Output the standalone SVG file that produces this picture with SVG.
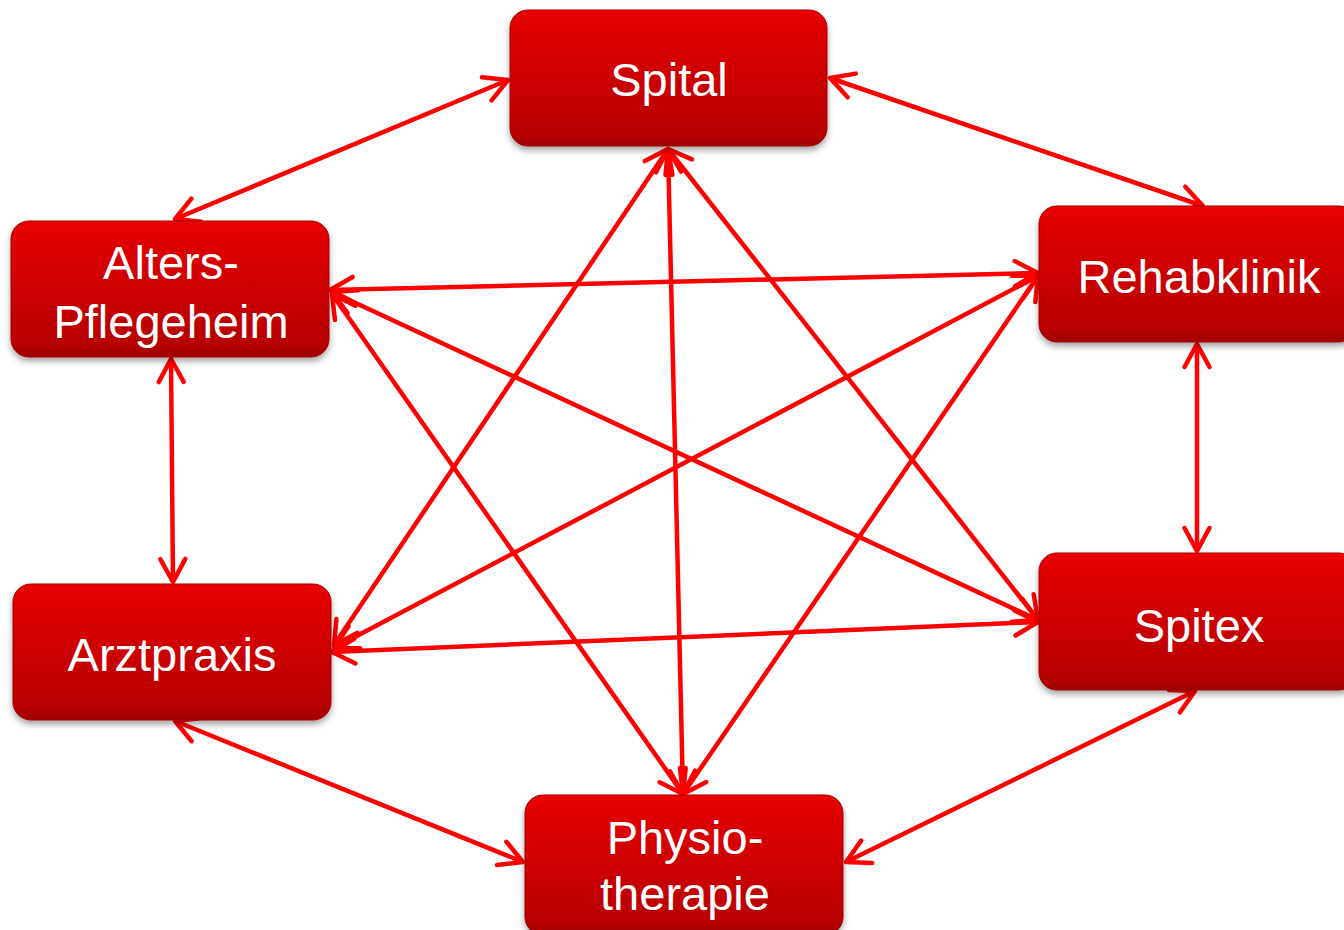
<svg xmlns="http://www.w3.org/2000/svg" width="1344" height="930" viewBox="0 0 1344 930">
<style>
.box{fill:url(#g);stroke:#a00000;stroke-width:1}
.lbl{font-family:"Liberation Sans",Arial,sans-serif;font-size:47px;fill:#fff;text-anchor:middle}
.c{stroke:#ff0000;stroke-width:4.5;fill:none;marker-start:url(#ah);marker-end:url(#ah)}
</style>
<defs>
<linearGradient id="g" x1="0" y1="0" x2="0" y2="1">
<stop offset="0" stop-color="#ee0606"/>
<stop offset="0.08" stop-color="#e20404"/>
<stop offset="0.9" stop-color="#b80000"/>
<stop offset="1" stop-color="#a00000"/>
</linearGradient>
<filter id="sh" x="-10%" y="-10%" width="120%" height="130%">
<feDropShadow dx="0" dy="4" stdDeviation="3" flood-color="#000" flood-opacity="0.35"/>
</filter>
<marker id="ah" markerUnits="userSpaceOnUse" markerWidth="40" markerHeight="40" viewBox="-30 -20 40 40" refX="0" refY="0" orient="auto-start-reverse">
<path d="M-23,-12.5 L0,0 L-23,12.5" fill="none" stroke="#ff0000" stroke-width="4.5" stroke-linecap="round" stroke-linejoin="round"/>
</marker>
</defs>
<rect width="1344" height="930" fill="#fff"/>
<g id="connectors">
<line class="c" x1="508" y1="80" x2="175" y2="219"/>
<line class="c" x1="830" y1="78" x2="1203" y2="206"/>
<line class="c" x1="330" y1="290" x2="1038" y2="273"/>
<line class="c" x1="171" y1="359" x2="173" y2="582"/>
<line class="c" x1="1197" y1="344" x2="1197" y2="551"/>
<line class="c" x1="175" y1="721" x2="523" y2="862"/>
<line class="c" x1="1195" y1="691" x2="846" y2="862"/>
<line class="c" x1="332" y1="652" x2="1038" y2="622"/>
<line class="c" x1="668" y1="149" x2="334" y2="645"/>
<line class="c" x1="668" y1="149" x2="683" y2="794"/>
<line class="c" x1="668" y1="149" x2="1038" y2="620"/>
<line class="c" x1="332" y1="294" x2="683" y2="794"/>
<line class="c" x1="332" y1="292" x2="1038" y2="620"/>
<line class="c" x1="1038" y1="276" x2="334" y2="648"/>
<line class="c" x1="1038" y1="276" x2="683" y2="794"/>
</g>
<g id="spital">
<rect class="box" filter="url(#sh)" x="510" y="10" width="317" height="136" rx="18"/>
<text class="lbl" x="669" y="96">Spital</text>
</g>
<g id="alters-pflegeheim">
<rect class="box" filter="url(#sh)" x="11" y="221" width="318" height="136" rx="18"/>
<text class="lbl" x="171" y="279">Alters-</text>
<text class="lbl" x="171" y="338">Pflegeheim</text>
</g>
<g id="rehabklinik">
<rect class="box" filter="url(#sh)" x="1039" y="206" width="318" height="136" rx="18"/>
<text class="lbl" x="1199" y="293">Rehabklinik</text>
</g>
<g id="arztpraxis">
<rect class="box" filter="url(#sh)" x="13" y="584" width="318" height="136" rx="18"/>
<text class="lbl" x="172" y="671">Arztpraxis</text>
</g>
<g id="spitex">
<rect class="box" filter="url(#sh)" x="1039" y="553" width="318" height="137" rx="18"/>
<text class="lbl" x="1199" y="642">Spitex</text>
</g>
<g id="physiotherapie">
<rect class="box" filter="url(#sh)" x="525" y="795" width="318" height="140" rx="18"/>
<text class="lbl" x="685" y="854">Physio-</text>
<text class="lbl" x="685" y="910">therapie</text>
</g>
</svg>
